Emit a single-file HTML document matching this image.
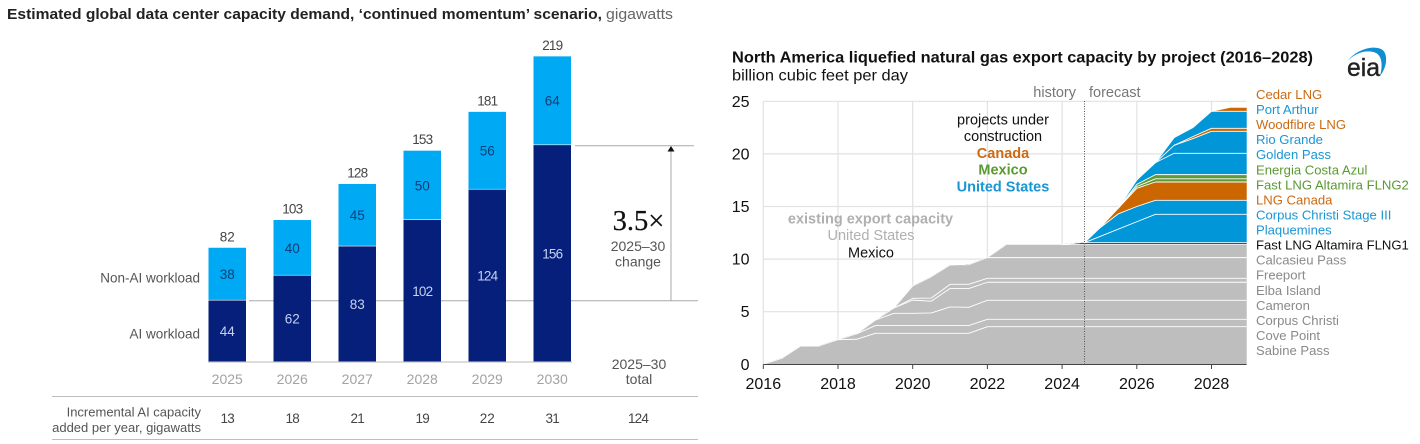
<!DOCTYPE html>
<html lang="en">
<head>
<meta charset="utf-8">
<title>Data center capacity demand and LNG export capacity</title>
<style>
html,body{margin:0;padding:0;background:#fff;width:1420px;height:444px;overflow:hidden}
svg{display:block;font-family:"Liberation Sans",sans-serif}
</style>
</head>
<body>
<svg id="canvas" width="1420" height="444" viewBox="0 0 1420 444" xmlns="http://www.w3.org/2000/svg">
  <g id="left-chart">
    <text x="7" y="19" font-size="14.5" fill="#222" font-weight="bold" textLength="595" lengthAdjust="spacingAndGlyphs">Estimated global data center capacity demand, ‘continued momentum’ scenario,</text>
    <text x="606" y="19" font-size="14.5" fill="#666" textLength="67" lengthAdjust="spacingAndGlyphs">gigawatts</text>
    <line x1="249" y1="300.7" x2="698" y2="300.7" stroke="#a8a8a8" stroke-width="1"/>
    <line x1="575" y1="145.7" x2="694" y2="145.7" stroke="#a8a8a8" stroke-width="1"/>
    <line x1="671" y1="150" x2="671" y2="300.7" stroke="#a8a8a8" stroke-width="1"/>
    <polygon points="671,146 667.5,151.5 674.5,151.5" fill="#111"/>
    <g id="left-bars"></g>
    <text x="200" y="282.5" font-size="13.5" fill="#555" text-anchor="end">Non-AI workload</text>
    <text x="200" y="338.5" font-size="13.5" fill="#555" text-anchor="end">AI workload</text>
    <text x="638.5" y="230" font-size="28.5" fill="#111" text-anchor="middle" font-family="'Liberation Serif',serif" stroke="#111" stroke-width="0.25">3.5×</text>
    <text x="638" y="251" font-size="14" fill="#555" text-anchor="middle">2025–30</text>
    <text x="638" y="266.5" font-size="14" fill="#555" text-anchor="middle">change</text>
    <text x="639" y="369" font-size="14" fill="#555" text-anchor="middle">2025–30</text>
    <text x="639" y="384" font-size="14" fill="#555" text-anchor="middle">total</text>
    <line x1="52" y1="396.5" x2="698" y2="396.5" stroke="#bdbdbd" stroke-width="1"/>
    <line x1="52" y1="439.5" x2="698" y2="439.5" stroke="#bdbdbd" stroke-width="1"/>
    <text x="201" y="416.5" font-size="13" fill="#555" text-anchor="end">Incremental AI capacity</text>
    <text x="201" y="432" font-size="13" fill="#555" text-anchor="end">added per year, gigawatts</text>
    <text x="638" y="423" font-size="13.5" fill="#444" text-anchor="middle" letter-spacing="-0.8">124</text>
  </g>

  <g id="right-chart">
    <text x="732" y="62.5" font-size="16" font-weight="bold" fill="#111" textLength="581" lengthAdjust="spacingAndGlyphs">North America liquefied natural gas export capacity by project (2016–2028)</text>
    <text x="732" y="80.5" font-size="16" fill="#111" textLength="176" lengthAdjust="spacingAndGlyphs">billion cubic feet per day</text>
    <g id="eia-logo">
      <path d="M1347.5 61 C1356 50 1372 45 1381 49 C1388 52 1388 66 1380 76 C1383 66 1382 56 1376 53 C1367 49 1355 53 1347.5 61Z" fill="#0f8fd2"/>
      <text x="1347" y="76" font-size="25" fill="#222" stroke="#222" stroke-width="0.4" textLength="33" lengthAdjust="spacingAndGlyphs">eia</text>
    </g>
    <g id="grid"></g>
    <g id="areas"></g>
    <g id="axes"></g>
    <line id="forecast-line" x1="1084.5" y1="101" x2="1084.5" y2="364" stroke="#555" stroke-width="1" stroke-dasharray="1 1.5"/>
    <text x="1076" y="97" font-size="14.5" fill="#777" text-anchor="end">history</text>
    <text x="1089" y="97" font-size="14.5" fill="#777">forecast</text>
    <g font-size="14.5" text-anchor="middle">
      <text x="1003" y="124.5" fill="#111">projects under</text>
      <text x="1003" y="141" fill="#111">construction</text>
      <text x="1003" y="158" fill="#cc6a12" font-weight="bold">Canada</text>
      <text x="1003" y="174.5" fill="#5a9a32" font-weight="bold">Mexico</text>
      <text x="1003" y="191.5" fill="#1a96d4" font-weight="bold">United States</text>
    </g>
    <g font-size="14.5" text-anchor="middle">
      <text x="870.5" y="223.5" fill="#b0b0b0" font-weight="bold">existing export capacity</text>
      <text x="871" y="240" fill="#b0b0b0">United States</text>
      <text x="871" y="257.5" fill="#111">Mexico</text>
    </g>
    <g id="legend"></g>
  </g>
</svg>
<script>
// ---------- Left chart data ----------
var barYears = ['2025', '2026', '2027', '2028', '2029', '2030'];
var aiWorkload = [44, 62, 83, 102, 124, 156];
var nonAiWorkload = [38, 40, 45, 50, 56, 64];
var barTotals = [82, 103, 128, 153, 181, 219];
var incrementalAi = [13, 18, 21, 19, 22, 31];

// ---------- Right chart data ----------
var timeYears = [2016,2016.5,2017,2017.5,2018,2018.5,2019,2019.5,2020,2020.5,2021,2021.5,2022,2022.5,2023,2023.5,2024,2024.5,2024.6,2025,2025.5,2026,2026.5,2027,2027.5,2028,2028.5,2028.94];
var xTickYears = [2016, 2018, 2020, 2022, 2024, 2026, 2028];
var yTickValues = [0, 5, 10, 15, 20, 25];
var sabinePass       = [0,.57,1.74,1.74,2.34,2.38,2.95,2.95,2.95,2.95,2.95,2.95,3.58,3.58,3.58,3.58,3.58,3.58,3.58,3.58,3.58,3.58,3.58,3.58,3.58,3.58,3.58,3.58];
var covePoint        = [0,0,0,0,0,.52,.73,.73,.73,.73,.73,.73,.7,.7,.7,.7,.7,.7,.7,.7,.7,.7,.7,.7,.7,.7,.7,.7];
var corpusChristi    = [0,0,0,0,0,0,.52,1.17,1.17,1.2,1.77,1.74,1.8,1.8,1.8,1.8,1.8,1.8,1.8,1.8,1.8,1.8,1.8,1.8,1.8,1.8,1.8,1.8];
var cameron          = [0,0,0,0,0,0,0,.5,1.25,1.12,1.75,1.78,1.72,1.72,1.72,1.72,1.72,1.72,1.72,1.72,1.72,1.72,1.72,1.72,1.72,1.72,1.72,1.72];
var elbaIsland       = [0,0,0,0,0,0,0,0,.17,.3,.4,.4,.37,.37,.37,.37,.37,.37,.37,.37,.37,.37,.37,.37,.37,.37,.37,.37];
var freeport         = [0,0,0,0,0,0,0,0,1.18,2.03,1.84,1.87,1.97,1.97,1.97,1.97,1.97,1.97,1.97,1.97,1.97,1.97,1.97,1.97,1.97,1.97,1.97,1.97];
var calcasieuPass    = [0,0,0,0,0,0,0,0,0,0,0,0,0,1.24,1.24,1.24,1.24,1.24,1.24,1.24,1.24,1.24,1.24,1.24,1.24,1.24,1.24,1.24];
var altamiraFlng1    = [0,0,0,0,0,0,0,0,0,0,0,0,0,0,0,0,0,.18,.18,.18,.18,.18,.18,.18,.18,.18,.18,.18];
var plaquemines      = [0,0,0,0,0,0,0,0,0,0,0,0,0,0,0,0,0,0,0,.57,1.28,1.99,2.7,2.7,2.7,2.7,2.7,2.7];
var corpusStage3     = [0,0,0,0,0,0,0,0,0,0,0,0,0,0,0,0,0,0,0,.8,1.45,1.45,1.33,1.33,1.33,1.33,1.33,1.33];
var lngCanada        = [0,0,0,0,0,0,0,0,0,0,0,0,0,0,0,0,0,0,0,0,.54,1.73,1.74,1.74,1.74,1.74,1.74,1.74];
var altamiraFlng2    = [0,0,0,0,0,0,0,0,0,0,0,0,0,0,0,0,0,0,0,0,0,.17,.3,.3,.3,.3,.3,.3];
var energiaCostaAzul = [0,0,0,0,0,0,0,0,0,0,0,0,0,0,0,0,0,0,0,0,0,.2,.4,.4,.4,.4,.4,.4];
var goldenPass       = [0,0,0,0,0,0,0,0,0,0,0,0,0,0,0,0,0,0,0,0,0,.42,1.14,2.03,2.03,2.03,2.03,2.03];
var rioGrande        = [0,0,0,0,0,0,0,0,0,0,0,0,0,0,0,0,0,0,0,0,0,0,0,.76,1.39,2.09,2.09,2.09];
var woodfibreLng     = [0,0,0,0,0,0,0,0,0,0,0,0,0,0,0,0,0,0,0,0,0,0,0,0,.19,.28,.28,.28];
var portArthur       = [0,0,0,0,0,0,0,0,0,0,0,0,0,0,0,0,0,0,0,0,0,0,0,.73,.86,1.62,1.62,1.62];
var cedarLng         = [0,0,0,0,0,0,0,0,0,0,0,0,0,0,0,0,0,0,0,0,0,0,0,0,0,0,.38,.38];

var GREY = '#bebebe', BLUE = '#0096d7', ORANGE = '#cc6600', GREEN = '#5f9a35', DARK = '#333333';
var stackOrder = [
  ['Sabine Pass', sabinePass, GREY, '#8a8a8a'],
  ['Cove Point', covePoint, GREY, '#8a8a8a'],
  ['Corpus Christi', corpusChristi, GREY, '#8a8a8a'],
  ['Cameron', cameron, GREY, '#8a8a8a'],
  ['Elba Island', elbaIsland, GREY, '#8a8a8a'],
  ['Freeport', freeport, GREY, '#8a8a8a'],
  ['Calcasieu Pass', calcasieuPass, GREY, '#8a8a8a'],
  ['Fast LNG Altamira FLNG1', altamiraFlng1, DARK, '#111111'],
  ['Plaquemines', plaquemines, BLUE, '#1a96d4'],
  ['Corpus Christi Stage III', corpusStage3, BLUE, '#1a96d4'],
  ['LNG Canada', lngCanada, ORANGE, '#cc6a12'],
  ['Fast LNG Altamira FLNG2', altamiraFlng2, GREEN, '#5a9a32'],
  ['Energia Costa Azul', energiaCostaAzul, GREEN, '#5a9a32'],
  ['Golden Pass', goldenPass, BLUE, '#1a96d4'],
  ['Rio Grande', rioGrande, BLUE, '#1a96d4'],
  ['Woodfibre LNG', woodfibreLng, ORANGE, '#cc6a12'],
  ['Port Arthur', portArthur, BLUE, '#1a96d4'],
  ['Cedar LNG', cedarLng, ORANGE, '#cc6a12']
];

var SVG_NS = 'http://www.w3.org/2000/svg';
function make(tag, parent, attrs) {
  var node = document.createElementNS(SVG_NS, tag);
  for (var key in attrs) node.setAttribute(key, attrs[key]);
  parent.appendChild(node);
  return node;
}
function slug(s) { return s.toLowerCase().replace(/[^a-z0-9]+/g, '-'); }
// The reference typeface has a narrow "1": tighten numbers containing it.
function numberSpacing(v) { return String(v).indexOf('1') >= 0 ? -0.8 : 0; }

// ---------- Left chart ----------
var barBase = 361.5, barScale = 1.387, barWidth = 37.5;
function barY(v) { return barBase - v * barScale; }
function barX(i) { return 208.5 + i * 65; }
var barsGroup = document.getElementById('left-bars');
var baseRule = make('line', barsGroup, {x1: 208, y1: 362, x2: 572, y2: 362, stroke: '#d0d0d0', 'stroke-width': 1.5});



barYears.forEach(function (year, i) {
  var x = barX(i), cx = x + barWidth / 2;
  var ai = aiWorkload[i], non = nonAiWorkload[i], total = barTotals[i];
  var aiRect = make('rect', barsGroup, {x: x, y: barY(ai), width: barWidth, height: ai * barScale, fill: '#051f7a'});
  
  
  var nonRect = make('rect', barsGroup, {x: x, y: barY(ai + non), width: barWidth, height: non * barScale - 0.6, fill: '#00a9f4'});
  
  
  var aiText = make('text', barsGroup, {x: cx, y: barY(ai / 2) + 5, 'font-size': 13.5, fill: '#c6d2f0', 'text-anchor': 'middle', 'letter-spacing': numberSpacing(ai)});
  aiText.textContent = ai;
  
  
  var nonText = make('text', barsGroup, {x: cx, y: barY(ai + non / 2) + 5, 'font-size': 13.5, fill: '#0d3f78', 'text-anchor': 'middle', 'letter-spacing': numberSpacing(non)});
  nonText.textContent = non;
  
  
  var totalText = make('text', barsGroup, {x: cx, y: barY(ai + non) - 6.5, 'font-size': 13.5, fill: '#444', 'text-anchor': 'middle', 'letter-spacing': numberSpacing(total)});
  totalText.textContent = total;
  
  
  var yearText = make('text', barsGroup, {x: cx, y: 384, 'font-size': 14, fill: '#a2a2a2', 'text-anchor': 'middle'});
  yearText.textContent = year;
  
  
  var incText = make('text', barsGroup, {x: cx, y: 423, 'font-size': 13.5, fill: '#444', 'text-anchor': 'middle', 'letter-spacing': numberSpacing(incrementalAi[i])});
  incText.textContent = incrementalAi[i];
  
  
});

// ---------- Right chart ----------
function xScale(t) { return 763.3 + (t - 2016) * 37.35; }
function yScale(v) { return 364.3 - v * 10.52; }
var gridGroup = document.getElementById('grid');
var areasGroup = document.getElementById('areas');
var axesGroup = document.getElementById('axes');
var legendGroup = document.getElementById('legend');

yTickValues.forEach(function (v) {
  if (v > 0) {
    var h = make('line', gridGroup, {x1: xScale(2016), x2: xScale(2028.94), y1: yScale(v), y2: yScale(v), stroke: '#e2e2e2', 'stroke-width': 1.2});
    
    
  }
  var lab = make('text', axesGroup, {x: 749.5, y: yScale(v) + 5.5, 'font-size': 16, fill: '#111', 'text-anchor': 'end'});
  lab.textContent = v;
  
  
});
xTickYears.forEach(function (t) {
  var g = make('line', gridGroup, {x1: xScale(t), x2: xScale(t), y1: yScale(25), y2: yScale(0), stroke: '#e2e2e2', 'stroke-width': 1.2});
  
  
});

var cumulative = timeYears.map(function () { return 0; });
stackOrder.forEach(function (item) {
  var name = item[0], values = item[1], fill = item[2];
  var lower = cumulative.slice();
  var upper = cumulative.map(function (c, i) { return c + values[i]; });
  cumulative = upper;
  var d = '';
  timeYears.forEach(function (t, i) {
    d += (i ? 'L' : 'M') + xScale(t).toFixed(2) + ' ' + yScale(upper[i]).toFixed(2);
  });
  for (var j = timeYears.length - 1; j >= 0; j--) {
    d += 'L' + xScale(timeYears[j]).toFixed(2) + ' ' + yScale(lower[j]).toFixed(2);
  }
  var area = make('path', areasGroup, {d: d + 'Z', fill: fill, stroke: fill, 'stroke-width': 0.2});
  
  
  item.push(upper.slice());
});
stackOrder.forEach(function (item) {
  var name = item[0], values = item[1], upper = item[4];
  var d = '';
  for (var i = 0; i < timeYears.length - 1; i++) {
    if (values[i] > 0 || values[i + 1] > 0) {
      d += 'M' + xScale(timeYears[i]).toFixed(2) + ' ' + yScale(upper[i]).toFixed(2);
      d += 'L' + xScale(timeYears[i + 1]).toFixed(2) + ' ' + yScale(upper[i + 1]).toFixed(2);
    }
  }
  var sep = make('path', areasGroup, {d: d, fill: 'none', stroke: '#ffffff', 'stroke-width': 0.9, 'stroke-linecap': 'round'});
  
  
});

var xAxis = make('line', axesGroup, {x1: xScale(2016), x2: xScale(2028.94), y1: 364.5, y2: 364.5, stroke: '#444', 'stroke-width': 1});


xTickYears.forEach(function (t) {
  var tick = make('line', axesGroup, {x1: xScale(t), x2: xScale(t), y1: 364.5, y2: 369, stroke: '#444', 'stroke-width': 1});
  
  
  var lab = make('text', axesGroup, {x: xScale(t), y: 389, 'font-size': 16, fill: '#111', 'text-anchor': 'middle'});
  lab.textContent = t;
  
  
});

stackOrder.slice().reverse().forEach(function (item, i) {
  var entry = make('text', legendGroup, {x: 1256, y: 99 + i * 15.06, 'font-size': 13.1, fill: item[3]});
  entry.textContent = item[0];
  
  
});
</script>
</body>
</html>
